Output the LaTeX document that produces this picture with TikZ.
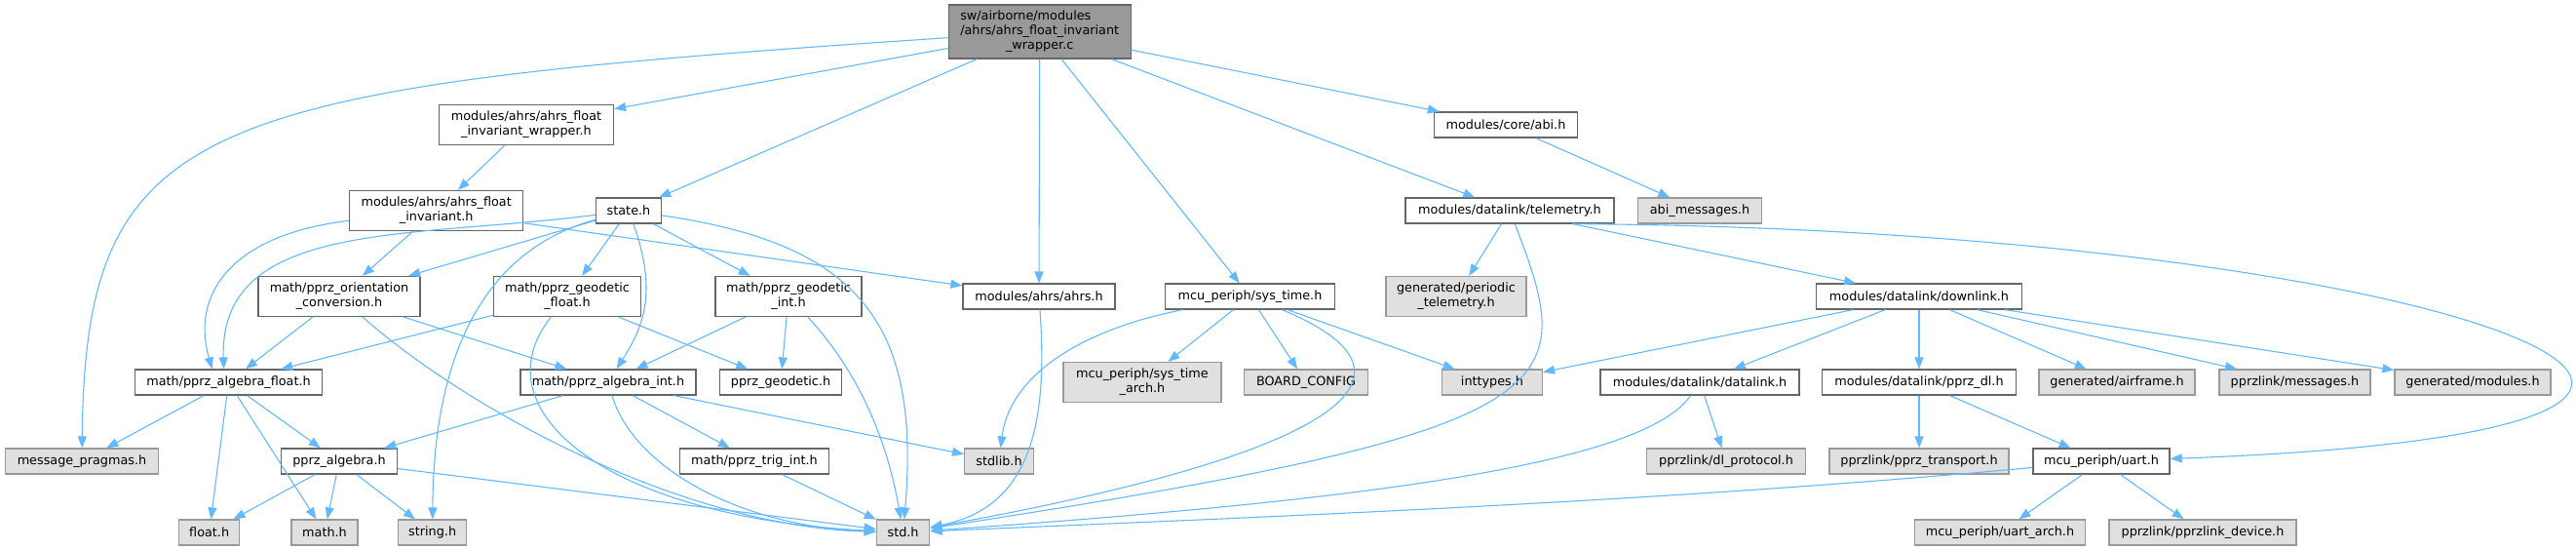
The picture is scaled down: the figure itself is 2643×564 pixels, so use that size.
\documentclass[tikz,border=0pt]{standalone}
\usepackage{fontspec}
\setmainfont{DejaVu Sans}
\usepackage{tikz}
\usetikzlibrary{arrows.meta}
\definecolor{edgeblue}{HTML}{63B8FF}
\definecolor{boxline}{HTML}{666666}
\definecolor{extline}{HTML}{999999}
\definecolor{extfill}{HTML}{E0E0E0}
\definecolor{rootfill}{HTML}{999999}
\tikzset{
  incbox/.style={rectangle, draw=boxline, fill=white, line width=1.2pt, align=center, inner xsep=2pt, inner ysep=2pt, minimum height=26pt},
  sysbox/.style={incbox, draw=extline, fill=extfill},
  rootbox/.style={incbox, fill=rootfill},
  incarr/.style={draw=edgeblue, line width=1.1pt, -{Triangle[length=12pt, width=9pt]}},
}

\begin{document}
\begin{tikzpicture}[x=1pt, y=-1pt, font=\fontsize{12.8}{15}\selectfont]
\useasboundingbox (0,0) rectangle (2643,564);
\node[rootbox, minimum width=187pt, minimum height=55pt] (wrapc) at (1066.7,32.5) {\begin{tabular}{@{}l@{}}sw/airborne/modules\\/ahrs/ahrs\_float\_invariant\\\multicolumn{1}{@{}c@{}}{\_wrapper.c}\end{tabular}};
\node[incbox, minimum width=179pt, minimum height=41pt] (wraph) at (540,128) {modules/ahrs/ahrs\_float\\\_invariant\_wrapper.h};
\node[incbox, minimum width=147pt] (abi) at (1545,128) {modules/core/abi.h};
\node[sysbox, minimum width=127pt] (abimsg) at (1744,216) {abi\_messages.h};
\node[incbox, minimum width=178pt, minimum height=41pt] (afi) at (447.7,216) {modules/ahrs/ahrs\_float\\\_invariant.h};
\node[incbox, minimum width=67pt] (state) at (645,216) {state.h};
\node[incbox, minimum width=214pt] (telem) at (1549,216) {modules/datalink/telemetry.h};
\node[incbox, minimum width=166pt, minimum height=41pt] (orient) at (348,304) {math/pprz\_orientation\\\_conversion.h};
\node[incbox, minimum width=151pt, minimum height=41pt] (geof) at (582,304) {math/pprz\_geodetic\\\_float.h};
\node[incbox, minimum width=150pt, minimum height=41pt] (geoi) at (809,304) {math/pprz\_geodetic\\\_int.h};
\node[incbox, minimum width=156pt] (ahrs) at (1066,304) {modules/ahrs/ahrs.h};
\node[incbox, minimum width=174pt] (systime) at (1282.5,304) {mcu\_periph/sys\_time.h};
\node[sysbox, minimum width=144pt, minimum height=41pt] (periodic) at (1494,304) {generated/periodic\\\_telemetry.h};
\node[incbox, minimum width=211pt] (downlink) at (1969,304) {modules/datalink/downlink.h};
\node[incbox, minimum width=192pt] (algf) at (234.5,392) {math/pprz\_algebra\_float.h};
\node[incbox, minimum width=180pt] (algi) at (624,392) {math/pprz\_algebra\_int.h};
\node[incbox, minimum width=125pt] (pgeo) at (801,392) {pprz\_geodetic.h};
\node[sysbox, minimum width=162pt, minimum height=41pt] (starch) at (1172,392) {mcu\_periph/sys\_time\\\_arch.h};
\node[sysbox, minimum width=127pt] (board) at (1340,392) {BOARD\_CONFIG};
\node[sysbox, minimum width=103pt] (inttypes) at (1531,392) {inttypes.h};
\node[incbox, minimum width=204pt] (datalink) at (1744,392) {modules/datalink/datalink.h};
\node[incbox, minimum width=199pt] (pprzdl) at (1969,392) {modules/datalink/pprz\_dl.h};
\node[sysbox, minimum width=160pt] (airframe) at (2172,392) {generated/airframe.h};
\node[sysbox, minimum width=155pt] (messages) at (2354.5,392) {pprzlink/messages.h};
\node[sysbox, minimum width=160pt] (modules) at (2537,392) {generated/modules.h};
\node[sysbox, minimum width=157pt] (pragmas) at (84,473) {message\_pragmas.h};
\node[incbox, minimum width=119pt] (palg) at (348,473) {pprz\_algebra.h};
\node[incbox, minimum width=153pt] (trig) at (774,473) {math/pprz\_trig\_int.h};
\node[sysbox, minimum width=71pt] (stdlib) at (1025,473) {stdlib.h};
\node[sysbox, minimum width=163pt] (dlproto) at (1771,473) {pprzlink/dl\_protocol.h};
\node[sysbox, minimum width=184pt] (transport) at (1969,473) {pprzlink/pprz\_transport.h};
\node[incbox, minimum width=140pt] (uart) at (2156,473) {mcu\_periph/uart.h};
\node[sysbox, minimum width=62pt] (floath) at (214.7,546) {float.h};
\node[sysbox, minimum width=68pt] (mathh) at (333,546) {math.h};
\node[sysbox, minimum width=70pt] (stringh) at (443.7,546) {string.h};
\node[sysbox, minimum width=54.5pt] (stdh) at (926.6,546) {std.h};
\node[sysbox, minimum width=174.5pt] (uartarch) at (2052,546) {mcu\_periph/uart\_arch.h};
\node[sysbox, minimum width=192pt] (device) at (2260,546) {pprzlink/pprzlink\_device.h};
\foreach \x/\y in {wrapc/wraph, wrapc/state, wrapc/ahrs, wrapc/systime, wrapc/telem, wrapc/abi, wraph/afi, abi/abimsg, afi/orient, afi/ahrs, state/orient, state/geof, state/geoi, telem/periodic, telem/downlink, orient/algf, orient/algi, geof/algf, geof/pgeo, geoi/algi, geoi/pgeo, algf/pragmas, algf/palg, algf/floath, algf/mathh, algi/palg, algi/trig, algi/stdlib, palg/floath, palg/mathh, palg/stringh, palg/stdh, trig/stdh, systime/starch, systime/board, systime/inttypes, downlink/inttypes, downlink/datalink, downlink/pprzdl, downlink/airframe, downlink/messages, downlink/modules, datalink/dlproto, pprzdl/transport, pprzdl/uart, uart/uartarch, uart/device} \draw[incarr] (\x) -- (\y);
\draw[incarr] (wrapc) .. controls (200,90) and (88,120) .. (pragmas);
\draw[incarr] (afi) .. controls (240,240) and (195,300) .. (algf.141);
\draw[incarr] (state) .. controls (420,245) and (225,225) .. (algf.110);
\draw[incarr] (state) .. controls (520,250) and (445,330) .. (stringh);
\draw[incarr] (state) .. controls (675,300) and (660,335) .. (algi);
\draw[incarr] (state) .. controls (880,250) and (945,330) .. (stdh);
\draw[incarr] (orient) .. controls (480,420) and (700,540) .. (stdh);
\draw[incarr] (geof) .. controls (490,420) and (620,530) .. (stdh);
\draw[incarr] (geoi) .. controls (880,380) and (910,450) .. (stdh);
\draw[incarr] (algi) .. controls (650,480) and (760,540) .. (stdh);
\draw[incarr] (ahrs) .. controls (1075,430) and (1060,520) .. (stdh);
\draw[incarr] (systime) .. controls (1100,340) and (1035,390) .. (stdlib);
\draw[incarr] (systime) .. controls (1490,390) and (1350,470) .. (stdh);
\draw[incarr] (telem) .. controls (1620,400) and (1620,440) .. (stdh);
\draw[incarr] (datalink) .. controls (1690,470) and (1450,510) .. (stdh);
\draw[incarr] (uart) .. controls (1700,515) and (1300,530) .. (stdh);
\draw[incarr] (telem.-12) .. controls (2500,235) and (3060,440) .. (uart);
\end{tikzpicture}
\end{document}
